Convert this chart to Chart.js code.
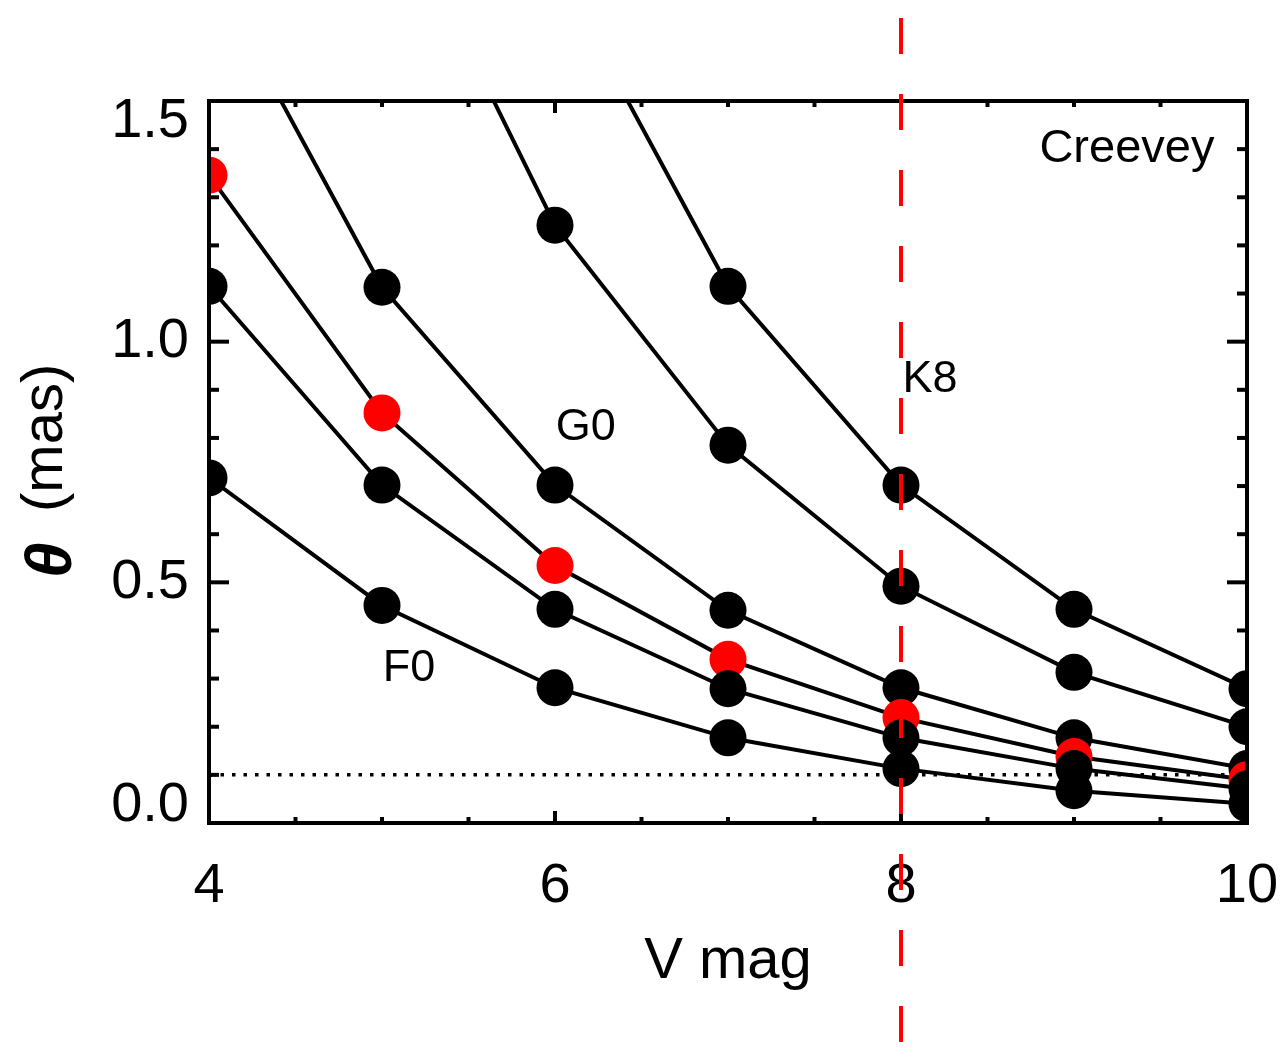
<!DOCTYPE html>
<html><head><meta charset="utf-8">
<script src="https://cdn.jsdelivr.net/npm/chart.js@4.4.0/dist/chart.umd.min.js"></script>
<style>html,body{margin:0;padding:0;background:#fff;} canvas{display:block;}</style>
</head><body>
<canvas id="c" width="1284" height="1047"></canvas>
<script>
// ---- data ----
const vmag      = [4, 5, 6, 7, 8, 9, 10];
const thetaF0   = [0.717, 0.452, 0.281, 0.177, 0.113, 0.067, 0.040];
const thetaA    = [1.115, 0.702, 0.444, 0.279, 0.177, 0.113, 0.071];
const thetaRed  = [1.346, 0.852, 0.535, 0.340, 0.219, 0.138, 0.090];
const thetaG0   = [1.776, 1.113, 0.702, 0.442, 0.281, 0.177, 0.113];
const thetaB    = [null, 1.971, 1.242, 0.785, 0.492, 0.313, 0.200];
const thetaK8   = [null, null, 1.779, 1.115, 0.702, 0.444, 0.279];
const limitMag  = [4, 10];
const limitTheta = [0.1, 0.1];
const cutMag = 8;
const xTickValues = [4, 6, 8, 10];
const yTickValues = [0.0, 0.5, 1.0, 1.5];
const annotTexts = ['F0', 'G0', 'K8', 'Creevey'];

const FAM = "'Liberation Sans', Arial, Helvetica, sans-serif";
Chart.defaults.color = '#000';

function pts(xs, ys) {
  return xs.map((x, i) => ({x: x, y: ys[i]})).filter(p => p.y !== null);
}
function curve(ys, color) {
  return {
    data: pts(vmag, ys), borderColor: '#000', borderWidth: 4, tension: 0,
    pointRadius: 18.5, pointHoverRadius: 18.5, pointBackgroundColor: color,
    pointBorderWidth: 0, clip: 0, fill: false
  };
}

const datasets = [
  curve(thetaF0, '#000'),
  curve(thetaA, '#000'),
  curve(thetaRed, '#ff0000'),
  curve(thetaG0, '#000'),
  curve(thetaB, '#000'),
  curve(thetaK8, '#000'),
  { data: pts(limitMag, limitTheta), borderColor: '#000', borderWidth: 3.5,
    borderDash: [3.5, 8], pointRadius: 0, clip: 0, fill: false }
];

const overlay = {
  id: 'overlay',
  afterDraw(chart, args, opts) {
    const ctx = chart.ctx, xs = chart.scales.x, ys = chart.scales.y, a = chart.chartArea;
    const line = (x1, y1, x2, y2) => { ctx.beginPath(); ctx.moveTo(x1, y1); ctx.lineTo(x2, y2); ctx.stroke(); };
    ctx.save();
    ctx.strokeStyle = '#000'; ctx.lineWidth = 4; ctx.lineCap = 'butt';
    // inward ticks, y: minor 0.1, major 0.5
    for (let k = 0; k <= 15; k++) {
      const py = ys.getPixelForValue(k / 10);
      const len = (k % 5 === 0) ? 20 : 10;
      line(a.left, py, a.left + len, py);
      line(a.right, py, a.right - len, py);
    }
    // inward ticks, x: minor 0.5, major 2
    for (let k = 0; k <= 12; k++) {
      const px = xs.getPixelForValue(4 + k * 0.5);
      const len = (k % 4 === 0) ? 12 : 6;
      line(px, a.bottom, px, a.bottom - len);
      line(px, a.top, px, a.top + len);
    }
    ctx.strokeRect(a.left, a.top, a.right - a.left, a.bottom - a.top);
    // red dashed vertical line
    ctx.strokeStyle = '#ff0000'; ctx.lineWidth = 4;
    ctx.setLineDash([36, 40]); ctx.lineDashOffset = 58;
    const cx = xs.getPixelForValue(cutMag);
    line(cx, 0, cx, chart.height);
    ctx.setLineDash([]);
    // annotations
    ctx.fillStyle = '#000'; ctx.textAlign = 'left'; ctx.textBaseline = 'alphabetic';
    opts.items.forEach((it, i) => {
      ctx.font = it.size + 'px ' + FAM;
      ctx.fillText(annotTexts[i], xs.getPixelForValue(it.x), ys.getPixelForValue(it.y));
    });
    // y axis title
    ctx.translate(71, (a.top + a.bottom) / 2 + 116);
    ctx.rotate(-Math.PI / 2);
    ctx.font = 'italic bold 64px ' + FAM;
    ctx.fillText('\u03B8', 0, 0);
    ctx.font = '58px ' + FAM;
    ctx.fillText('(mas)', 66, -9);
    ctx.restore();
  }
};

new Chart(document.getElementById('c'), {
  type: 'line',
  data: { datasets: datasets },
  plugins: [overlay],
  options: {
    responsive: false, animation: false, events: [],
    layout: { padding: { left: 0, top: 101, right: 37, bottom: 0 } },
    plugins: {
      legend: { display: false }, tooltip: { enabled: false },
      overlay: { items: [
        { x: 5.005, y: 0.296, size: 45 },
        { x: 6.004, y: 0.796, size: 45 },
        { x: 8.008, y: 0.896, size: 45 },
        { x: 8.80,  y: 1.373, size: 47 }
      ] }
    },
    scales: {
      x: {
        type: 'linear', min: 4, max: 10,
        grid: { display: false, drawTicks: false }, border: { display: false },
        afterBuildTicks: s => { s.ticks = xTickValues.map(v => ({value: v})); },
        ticks: { padding: 30, color: '#000', font: { family: FAM, size: 56 }, callback: v => String(v) },
        title: { display: true, text: 'V mag', color: '#000', font: { family: FAM, size: 58 }, padding: { top: 0, bottom: 50 } },
        afterFit: s => { s.height = 224; s.paddingLeft = 0; s.paddingRight = 0; }
      },
      y: {
        type: 'linear', min: 0, max: 1.5,
        grid: { display: false, drawTicks: false }, border: { display: false },
        afterBuildTicks: s => { s.ticks = yTickValues.map(v => ({value: v})); },
        ticks: {
          padding: 20, color: '#000',
          font: c => {
            const v = c.tick ? c.tick.value : 0.5;
            return { family: FAM, size: 56, lineHeight: v === 1.5 ? 0.75 : (v === 0 ? 0.607 : 1.2) };
          },
          callback: v => {
            const s = Number(v).toFixed(1);
            if (v === 1.5) return ['', s];
            if (v === 0) return [s, ''];
            return s;
          }
        },
        afterFit: s => { s.width = 209; s.paddingTop = 0; s.paddingBottom = 0; }
      }
    }
  }
});
</script>
</body></html>
